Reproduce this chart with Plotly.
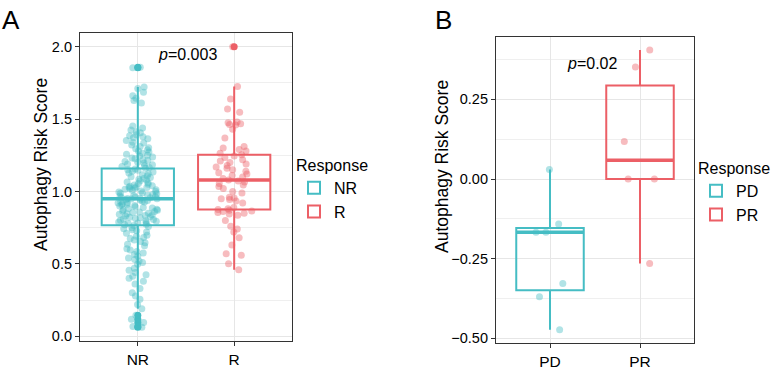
import numpy as np
import plotly.graph_objects as go

# ---------------- data ----------------
panel_a_groups = ["NR", "R"]
panel_b_groups = ["PD", "PR"]

nr_scores = [
    1.855, 1.858,
    1.722, 1.712, 1.685, 1.662, 1.645, 1.628, 1.612,
    1.452, 1.438, 1.425, 1.412, 1.405, 1.392, 1.385, 1.372,
    1.378, 1.365, 1.352, 1.341, 1.335, 1.322, 1.310, 1.302, 1.295, 1.288,
    1.280, 1.272, 1.265, 1.258, 1.251, 1.245, 1.238, 1.232, 1.226, 1.220,
    1.214, 1.208, 1.202, 1.196, 1.190, 1.184, 1.178, 1.172, 1.166, 1.161,
    1.155, 1.150, 1.146, 1.140, 1.135, 1.128, 1.122, 1.115, 1.108, 1.102,
    1.096, 1.090, 1.084, 1.078, 1.072, 1.066, 1.060, 1.055, 1.050, 1.045,
    1.040, 1.036, 1.032, 1.030, 1.028, 1.024, 1.020, 1.016, 1.012, 1.008,
    1.004, 1.000, 0.996, 0.992, 0.988, 0.984, 0.980, 0.976, 0.972, 0.968,
    0.965, 0.962, 0.959, 0.956, 0.954, 0.952,
    0.950, 0.948, 0.945, 0.942, 0.938, 0.935, 0.931, 0.928, 0.924, 0.920,
    0.916, 0.912, 0.908, 0.904, 0.900, 0.895, 0.890, 0.886, 0.882, 0.878,
    0.874, 0.870, 0.866, 0.862, 0.858, 0.854, 0.850, 0.846, 0.842, 0.838,
    0.834, 0.830, 0.826, 0.822, 0.818, 0.814, 0.810, 0.806, 0.802, 0.798,
    0.794, 0.790, 0.786, 0.782, 0.778, 0.774, 0.770,
    0.765, 0.758, 0.750, 0.742, 0.735, 0.728, 0.720, 0.712, 0.698, 0.690,
    0.682, 0.675, 0.665, 0.655, 0.645, 0.635, 0.625, 0.605, 0.595, 0.585,
    0.575, 0.565, 0.552, 0.540, 0.530, 0.520, 0.510, 0.498, 0.470, 0.455,
    0.440, 0.425, 0.415, 0.400, 0.380, 0.360, 0.330, 0.300, 0.278, 0.255,
    0.220, 0.190,
    0.145, 0.117, 0.094, 0.067, 0.062,
]

r_scores = [
    0.460, 0.500, 0.560, 0.570, 0.630, 0.680, 0.720, 0.740, 0.760, 0.800,
    0.835, 0.845, 0.850, 0.855, 0.862, 0.866, 0.870,
    0.876,
    0.880, 0.890, 0.920, 0.935, 0.945, 0.950, 0.955, 0.960, 0.990, 1.000,
    1.020, 1.035, 1.045, 1.055, 1.065, 1.072,
    1.080,
    1.090, 1.100, 1.110, 1.120, 1.130, 1.140, 1.150, 1.160, 1.170, 1.180,
    1.190, 1.200, 1.210, 1.220, 1.235, 1.245,
    1.253,
    1.265, 1.280, 1.290, 1.300, 1.310, 1.370, 1.430, 1.460, 1.462, 1.468,
    1.475, 1.480, 1.547, 1.570, 1.639, 1.726, 2.000,
]

pd_scores = [0.030, -0.141, -0.167, -0.167, -0.328, -0.370, -0.473]
pr_scores = [0.405, 0.352, 0.118, 0.000, 0.000, -0.265]

p_labels = ["<i>p</i>=0.003", "<i>p</i>=0.02"]
y_title = "Autophagy Risk Score"
legend_title = "Response"

# ---------------- style ----------------
TEAL = "#45BDC4"
RED = "#EC5F66"
FONT = "Arial, Liberation Sans, sans-serif"
BOX_W = 0.75
W, H = 774, 380


def rgba(hex_c, a):
    h = hex_c.lstrip("#")
    return "rgba(%d,%d,%d,%.2f)" % (int(h[0:2], 16), int(h[2:4], 16), int(h[4:6], 16), a)


def box_stats(vals):
    v = np.sort(np.asarray(vals, dtype=float))
    q1, med, q3 = np.percentile(v, [25, 50, 75])
    iqr = q3 - q1
    lo = v[v >= q1 - 1.5 * iqr].min()
    hi = v[v <= q3 + 1.5 * iqr].max()
    out = v[(v < lo) | (v > hi)]
    return q1, med, q3, lo, hi, out


fig = go.Figure()


def add_group(vals, pos, name, color, xa, ya, legend):
    q1, med, q3, lo, hi, out = box_stats(vals)
    fig.add_trace(go.Box(
        x=[pos], q1=[q1], median=[med], q3=[q3], lowerfence=[lo], upperfence=[hi],
        width=BOX_W, whiskerwidth=0, boxpoints=False, name=name,
        line=dict(color=color, width=2), fillcolor="rgba(255,255,255,0)",
        xaxis=xa, yaxis=ya, legend=legend, showlegend=True,
    ))
    fig.add_trace(go.Box(
        y=vals, x0=pos, width=BOX_W, whiskerwidth=0, boxpoints="all", jitter=0.55, pointpos=0,
        line=dict(color="rgba(0,0,0,0)", width=0), fillcolor="rgba(0,0,0,0)",
        marker=dict(color=rgba(color, 0.42), size=7, line=dict(width=0)),
        xaxis=xa, yaxis=ya, showlegend=False, hoveron="points",
    ))
    fig.add_trace(go.Scatter(
        x=[pos - BOX_W / 2, pos + BOX_W / 2], y=[med, med], mode="lines",
        line=dict(color=color, width=3.5), xaxis=xa, yaxis=ya,
        showlegend=False, hoverinfo="skip",
    ))
    if len(out):
        fig.add_trace(go.Scatter(
            x=[pos] * len(out), y=list(out), mode="markers",
            marker=dict(color=color, size=7), xaxis=xa, yaxis=ya,
            showlegend=False,
        ))


add_group(nr_scores, 1, panel_a_groups[0], TEAL, "x", "y", "legend")
add_group(r_scores, 2, panel_a_groups[1], RED, "x", "y", "legend")
add_group(pd_scores, 1, panel_b_groups[0], TEAL, "x2", "y2", "legend2")
add_group(pr_scores, 2, panel_b_groups[1], RED, "x2", "y2", "legend2")

GRID = "#E6E6E6"
MINOR = "#EFEFEF"
LINE = "#333333"

xcommon = dict(range=[0.4, 2.6], tickmode="array", tickvals=[1, 2],
               showgrid=True, gridcolor=GRID, gridwidth=1, zeroline=False,
               showline=True, mirror=True, linecolor=LINE, linewidth=1.2,
               ticks="outside", ticklen=4, tickcolor=LINE, tickwidth=1,
               tickfont=dict(size=15.5, color="black", family=FONT))
ycommon = dict(showgrid=True, gridcolor=GRID, gridwidth=1, zeroline=False,
               showline=True, mirror=True, linecolor=LINE, linewidth=1.2,
               ticks="outside", ticklen=4, tickcolor=LINE, tickwidth=1,
               tickfont=dict(size=14.5, color="black", family=FONT))

legend_common = dict(xanchor="left", yanchor="top", tracegroupgap=0,
                     title=dict(text=legend_title, font=dict(size=16, family=FONT)),
                     font=dict(size=16, family=FONT), bgcolor="rgba(0,0,0,0)")

fig.update_layout(
    width=W, height=H, margin=dict(l=0, r=0, t=0, b=0, autoexpand=False),
    paper_bgcolor="white", plot_bgcolor="white",
    font=dict(family=FONT, color="black"),
    boxmode="overlay",
    xaxis=dict(domain=[80 / W, 292 / W], anchor="y", ticktext=panel_a_groups, **xcommon),
    yaxis=dict(domain=[39 / H, 347 / H], anchor="x", range=[-0.033, 2.095],
               tickmode="linear", tick0=0, dtick=0.5, tickformat=".1f",
               minor=dict(tick0=0, dtick=0.25, showgrid=True, gridcolor=MINOR, gridwidth=1),
               **ycommon),
    xaxis2=dict(domain=[496 / W, 694 / W], anchor="y2", ticktext=panel_b_groups, **xcommon),
    yaxis2=dict(domain=[37 / H, 343 / H], anchor="x2", range=[-0.515, 0.446],
                tickmode="linear", tick0=0, dtick=0.25, tickformat=".2f",
                minor=dict(tick0=0, dtick=0.125, showgrid=True, gridcolor=MINOR, gridwidth=1),
                **ycommon),
    legend=dict(x=294 / W, y=1 - 150 / H, **legend_common),
    legend2=dict(x=696 / W, y=1 - 153 / H, **legend_common),
    annotations=[
        dict(text="A", x=0 / W, y=1 - 3 / H, xref="paper", yref="paper",
             xanchor="left", yanchor="top", showarrow=False,
             font=dict(size=26, family=FONT, color="black")),
        dict(text="B", x=433 / W, y=1 - 3 / H, xref="paper", yref="paper",
             xanchor="left", yanchor="top", showarrow=False,
             font=dict(size=26, family=FONT, color="black")),
        dict(text=y_title, x=41 / W, y=1 - 165 / H, xref="paper", yref="paper",
             textangle=-90, xanchor="center", yanchor="middle", showarrow=False,
             font=dict(size=17.5, family=FONT, color="black")),
        dict(text=y_title, x=442 / W, y=1 - 167 / H, xref="paper", yref="paper",
             textangle=-90, xanchor="center", yanchor="middle", showarrow=False,
             font=dict(size=17.5, family=FONT, color="black")),
        dict(text=p_labels[0], x=1.52, y=1.945, xref="x", yref="y", showarrow=False,
             font=dict(size=16, family=FONT, color="black")),
        dict(text=p_labels[1], x=1.47, y=0.363, xref="x2", yref="y2", showarrow=False,
             font=dict(size=16, family=FONT, color="black")),
    ],
)

fig.write_html("out.html", post_script="document.body.style.margin='0';",
               config={"displayModeBar": False})
